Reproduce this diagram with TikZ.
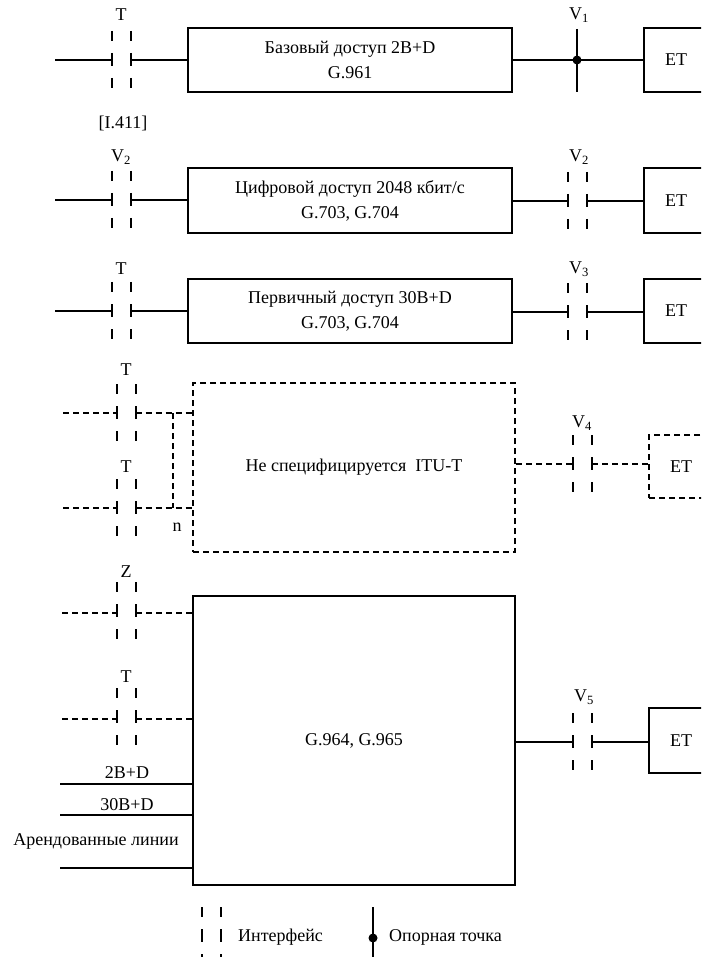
\documentclass[tikz,border=0pt]{standalone}
\usepackage{fontspec}
\setmainfont{Liberation Serif}
\begin{document}
\begin{tikzpicture}[x=1pt,y=-1pt,
  every node/.style={font=\fontsize{18}{25}\selectfont, inner sep=0pt},
  ln/.style={line width=2pt},
  dl/.style={line width=2pt, dash pattern=on 6pt off 4pt},
  box/.style={draw, line width=2pt, align=center},
  dbox/.style={draw, line width=2pt, dash pattern=on 6pt off 4pt, align=center},
  etbox/.style={draw, line width=2pt, minimum width=64pt, anchor=west},
  detbox/.style={draw, line width=2pt, dash pattern=on 6pt off 4pt, minimum width=64pt, anchor=west},
  lbl/.style={anchor=center},
  pics/iface/.style={code={
    \draw[line width=2pt, dash pattern=on 10pt off 12pt on 13pt off 12pt on 10pt off 30pt]
      (-9.5,-29) -- (-9.5,28) (9.5,-29) -- (9.5,28);
    \coordinate (-l) at (-9.5,0);
    \coordinate (-r) at (9.5,0);
  }}
]
\clip (0,0) rectangle (701,957);
% ---------- Row 1
\coordinate (s1) at (55,60);
\pic (i1) at (121,60) {iface};
\node[lbl] (t1) at (121,15) {T};
\node[lbl] (ref1) at (123,123) {[I.411]};
\node[box, minimum width=324pt, minimum height=64pt] (b1) at (350,60) {Базовый доступ 2B+D\\G.961};
\coordinate (v1) at (577,60);
\coordinate (v1t) at (577,29);
\coordinate (v1b) at (577,92);
\node[lbl] (v1l) at (579,15) {V\textsubscript{1}};
\node[etbox, minimum height=64pt] (e1) at (643,60) {ET};
\draw[ln] (s1) -- (i1-l);
\draw[ln] (i1-r) -- (b1.west);
\draw[ln] (b1.east) -- (e1.west);
\draw[ln] (v1t) -- (v1b);
\fill (v1) circle (4.5pt);
% ---------- Row 2
\coordinate (s2) at (55,200);
\pic (i2) at (121,200) {iface};
\node[lbl] (t2) at (121,157) {V\textsubscript{2}};
\node[box, minimum width=324pt, minimum height=65pt] (b2) at (350,200.5) {Цифровой доступ 2048 кбит/с\\G.703, G.704};
\pic (i2r) at (577,201) {iface};
\node[lbl] (t2r) at (579,157) {V\textsubscript{2}};
\node[etbox, minimum height=65pt] (e2) at (643,200.5) {ET};
\draw[ln] (s2) -- (i2-l);
\draw[ln] (i2-r) -- (i2-r -| b2.west);
\draw[ln] (b2.east |- i2r-l) -- (i2r-l);
\draw[ln] (i2r-r) -- (i2r-r -| e2.west);
% ---------- Row 3
\coordinate (s3) at (55,311);
\pic (i3) at (121,311) {iface};
\node[lbl] (t3) at (121,269) {T};
\node[box, minimum width=324pt, minimum height=64pt] (b3) at (350,311) {Первичный доступ 30B+D\\G.703, G.704};
\pic (i3r) at (577,312) {iface};
\node[lbl] (t3r) at (579,269) {V\textsubscript{3}};
\node[etbox, minimum height=64pt] (e3) at (643,311) {ET};
\draw[ln] (s3) -- (i3-l);
\draw[ln] (i3-r) -- (i3-r -| b3.west);
\draw[ln] (b3.east |- i3r-l) -- (i3r-l);
\draw[ln] (i3r-r) -- (i3r-r -| e3.west);
% ---------- Row 4 (dashed)
\node[dbox, minimum width=322pt, minimum height=169pt] (b4) at (354,467.5) {Не специфицируется\ \ ITU-T};
\coordinate (s4a) at (63,413);
\pic (i4a) at (126,413) {iface};
\node[lbl] (t4a) at (126,370) {T};
\coordinate (s4b) at (63,508);
\pic (i4b) at (126,508) {iface};
\node[lbl] (t4b) at (126,467) {T};
\coordinate (k1) at (173,413);
\coordinate (k2) at (173,508);
\node[lbl] (n4) at (177,527) {n};
\draw[dl] (s4a) -- (i4a-l);
\draw[dl] (i4a-r) -- (i4a-r -| b4.west);
\draw[dl] (s4b) -- (i4b-l);
\draw[dl] (i4b-r) -- (i4b-r -| b4.west);
\draw[dl] (k1) -- (k2);
\pic (i4r) at (582.5,464) {iface};
\node[lbl] (t4r) at (582,423) {V\textsubscript{4}};
\node[detbox, minimum height=63pt] (e4) at (648,466.5) {ET};
\draw[dl] (b4.east |- i4r-l) -- (i4r-l);
\draw[dl] (i4r-r) -- (i4r-r -| e4.west);
% ---------- Row 5
\node[box, minimum width=322pt, minimum height=289pt] (b5) at (354,740.5) {G.964, G.965};
\coordinate (s5a) at (62,613);
\pic (i5a) at (126.5,611) {iface};
\node[lbl] (t5a) at (126,572) {Z};
\coordinate (s5b) at (62,719);
\pic (i5b) at (126.5,717) {iface};
\node[lbl] (t5b) at (126,677) {T};
\draw[dl] (s5a) -- (s5a -| i5a-l);
\draw[dl] (s5a -| i5a-r) -- (s5a -| b5.west);
\draw[dl] (s5b) -- (s5b -| i5b-l);
\draw[dl] (s5b -| i5b-r) -- (s5b -| b5.west);
\coordinate (s5c) at (60,784);
\coordinate (s5d) at (60,815);
\coordinate (s5e) at (60,868);
\node[lbl] (l5c) at (127,773) {2B+D};
\node[lbl] (l5d) at (127,805) {30B+D};
\node[lbl] (l5e) at (96,841) {Арендованные линии};
\draw[ln] (s5c) -- (s5c -| b5.west);
\draw[ln] (s5d) -- (s5d -| b5.west);
\draw[ln] (s5e) -- (s5e -| b5.west);
\pic (i5r) at (582.5,742) {iface};
\node[lbl] (t5r) at (584,697) {V\textsubscript{5}};
\node[etbox, minimum height=65pt] (e5) at (648,740.5) {ET};
\draw[ln] (b5.east |- i5r-l) -- (i5r-l);
\draw[ln] (i5r-r) -- (i5r-r -| e5.west);
% ---------- Legend
\pic (lg1) at (211.5,936) {iface};
\node[anchor=west] (lgt1) at (238,937) {Интерфейс};
\coordinate (lg2t) at (373,907);
\coordinate (lg2b) at (373,960);
\coordinate (lg2) at (373,938);
\draw[ln] (lg2t) -- (lg2b);
\fill (lg2) circle (4.5pt);
\node[anchor=west] (lgt2) at (389,937) {Опорная точка};
\end{tikzpicture}
\end{document}
